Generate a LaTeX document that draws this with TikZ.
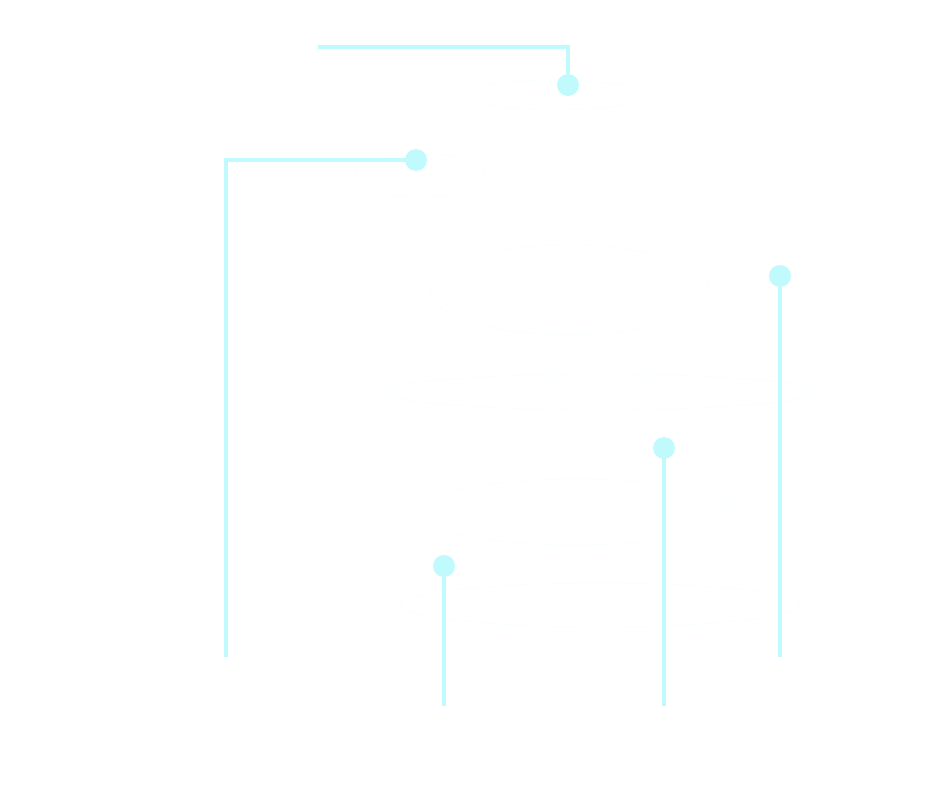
\documentclass[tikz,border=0pt]{standalone}
\usepackage{tikz}
\usetikzlibrary{calc}

\definecolor{wirecyan}{RGB}{192,250,252}

\tikzset{
	wire/.style={line width=2.3pt,draw=wirecyan},
	dot/.style={circle,fill=wirecyan,inner sep=0pt,minimum size=0.44cm},
	ghost/.style={draw=wirecyan,opacity=0.1,line width=0.6pt}
}

\begin{document}
\begin{tikzpicture}[x=0.02cm,y=-0.02cm]
	\useasboundingbox (0,0) rectangle (951,801);
	
	% faint rings in the back
	\draw[ghost] (570,290) ellipse (140 and 45);
	\draw[ghost] (600,392) ellipse (215 and 18);
	\draw[ghost] (575,512) ellipse (160 and 33);
	\draw[ghost] (600,605) ellipse (200 and 22);
	\draw[ghost] (555,95) ellipse (90 and 15);
	\draw[ghost] (420,175) ellipse (65 and 22);
	
	% pins
	\node[dot] (topdot) at (568,85) {};
	\node[dot] (leftdot) at (416,160) {};
	\node[dot] (rightdot) at (780,276) {};
	\node[dot] (middot) at (664,448) {};
	\node[dot] (lowdot) at (444,566) {};
	
	\coordinate (topend) at (318,47);
	\coordinate (leftend) at (226,657);
	\coordinate (rightend) at (780,657);
	\coordinate (midend) at (664,706);
	\coordinate (lowend) at (444,706);
	
	\draw[wire] (topend) -| (topdot);
	\draw[wire] (leftdot) -| (leftend);
	\draw[wire] (rightdot) -- (rightend);
	\draw[wire] (middot) -- (midend);
	\draw[wire] (lowdot) -- (lowend);
\end{tikzpicture}
\end{document}
